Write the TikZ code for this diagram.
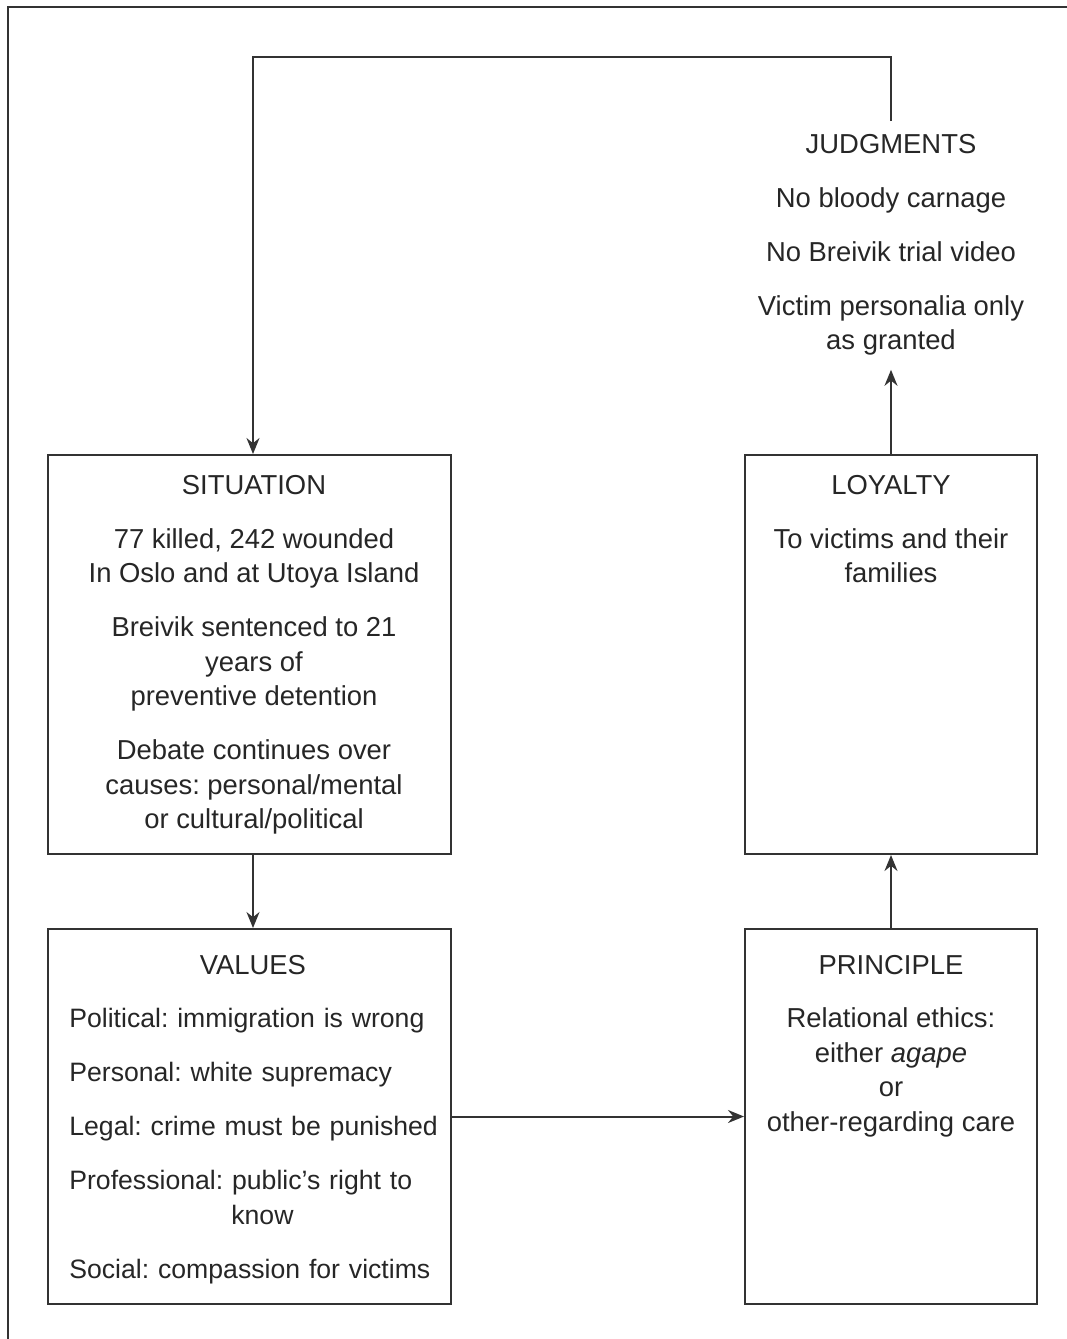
\documentclass[tikz,border=0pt]{standalone}
\usepackage{fontspec}
\setmainfont{Liberation Sans}
\frenchspacing
\usetikzlibrary{arrows.meta, positioning, calc}

\begin{document}
\begin{tikzpicture}[
    box/.style={draw=black!80, line width=0.04cm, inner sep=0pt},
    boxtext/.style={inner sep=0pt, align=center, text=black!85,
                    font=\fontsize{15.6}{19.6}\selectfont},
    arr/.style={draw=black!80, line width=0.04cm,
                -{Stealth[length=0.32cm, width=0.26cm]}},
    >=Stealth
  ]
  \useasboundingbox (0,0) rectangle (21.34,-26.78);
  % outer frame (cut at right and bottom)
  \draw[black!80, line width=0.05cm] (0.16,-26.78) |- (21.34,-0.14);

  % Boxes
  \node[box, minimum width=8.06cm, minimum height=7.98cm] (sit) at (4.99,-13.09) {};
  \node[box, minimum width=8.06cm, minimum height=7.50cm] (val) at (4.99,-22.33) {};
  \node[box, minimum width=5.84cm, minimum height=7.98cm] (loy) at (17.82,-13.09) {};
  \node[box, minimum width=5.84cm, minimum height=7.50cm] (pri) at (17.82,-22.33) {};

  % Box contents
  \node[boxtext, below=0.42cm of sit.north, xshift=0.09cm] (sittext) {SITUATION\\[0.39cm]
    77 killed, 242 wounded\\ In Oslo and at Utoya Island\\[0.39cm]
    Breivik sentenced to 21\\ years of\\ preventive detention\\[0.39cm]
    Debate continues over\\ causes: personal/mental\\ or cultural/political};
  \node[boxtext, align=left, text width=8cm, anchor=north west,
        font=\fontsize{15.15}{19.6}\selectfont]
    (valtext) at ($(val.north west)+(0.44,-0.53)$) {%
    \makebox[7.34cm]{\fontsize{15.6}{19.6}\selectfont VALUES}\\[0.39cm]
    Political: immigration is wrong\\[0.39cm]
    Personal: white supremacy\\[0.39cm]
    Legal: crime must be punished\\[0.39cm]
    Professional: public's right to\\ \hspace*{3.24cm}know\\[0.39cm]
    Social: compassion for victims};
  \node[boxtext, below=0.42cm of loy.north] (loytext) {LOYALTY\\[0.39cm]
    To victims and their\\ families};
  \node[boxtext, below=0.53cm of pri.north] (pritext) {PRINCIPLE\\[0.39cm]
    Relational ethics:\\ either \textit{agape}\\ or\\ other-regarding care};

  % Judgments (no box)
  \node[boxtext, anchor=north] (judg) at (17.82,-2.68) {JUDGMENTS\\[0.39cm]
    No bloody carnage\\[0.39cm] No Breivik trial video\\[0.39cm]
    Victim personalia only\\ as granted};

  % Connectors
  \coordinate (fbstart) at (17.82,-2.42);
  \coordinate (fbcorner) at (5.06,-1.14);
  \draw[arr] (fbstart) |- (fbcorner) -- (fbcorner |- sit.north);
  \draw[arr] (fbcorner |- sit.south) -- (fbcorner |- val.north);
  \draw[arr] (val.east) -- (pri.west);
  \draw[arr] (pri.north) -- (loy.south);
  \draw[arr] (loy.north) -- ([yshift=-0.28cm]judg.south);
\end{tikzpicture}
\end{document}
